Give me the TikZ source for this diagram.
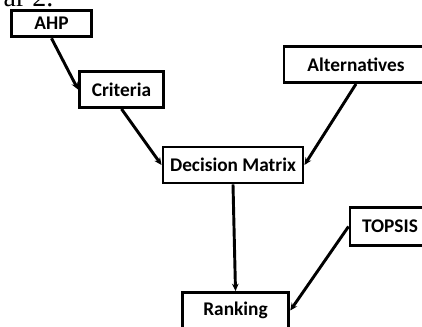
\documentclass[tikz,border=0pt]{standalone}
\usepackage{fontspec}
\setmainfont{Carlito}
\newfontfamily\captionfont{Liberation Serif}
\usetikzlibrary{arrows.meta}

\begin{document}
\begin{tikzpicture}[x=0.75pt, y=-0.75pt,
    box/.style={draw, line width=2.2pt, inner sep=0pt, font=\fontsize{14.5}{16}\selectfont\bfseries},
    link/.style={line width=2.2pt, -{Stealth[length=5.5pt, width=5pt]}}]
      \useasboundingbox (0,0) rectangle (422,326);

      \node[anchor=base west, font=\captionfont\fontsize{21}{24}\selectfont] (cap) at (-1, 6) {ar 2.};

      \node[box, minimum width=60pt, minimum height=20pt] (ahp) at (51.5, 23.5) {AHP};
      \node[box, minimum width=63pt, minimum height=27pt] (crit) at (121.5, 89.5) {Criteria};
      \node[box, minimum width=108pt, minimum height=27pt] (alt) at (356, 64.5) {Alternatives};
      \node[box, minimum width=105pt, minimum height=27pt] (dm) at (233, 165) {Decision Matrix};
      \node[box, minimum width=80pt, minimum height=27pt] (rank) at (235.5, 310.5) {Ranking};
      \node[box, minimum width=60pt, minimum height=28pt] (topsis) at (390, 226.5) {TOPSIS};

      \draw[link] (ahp.south) -- (crit.west);
      \draw[link] (crit.south) -- (dm.west);
      \draw[link] (alt.south) -- (dm.east);
      \draw[link] (dm.south) -- (rank.north);
      \draw[link] (topsis.west) -- (rank.east);
\end{tikzpicture}
\end{document}
